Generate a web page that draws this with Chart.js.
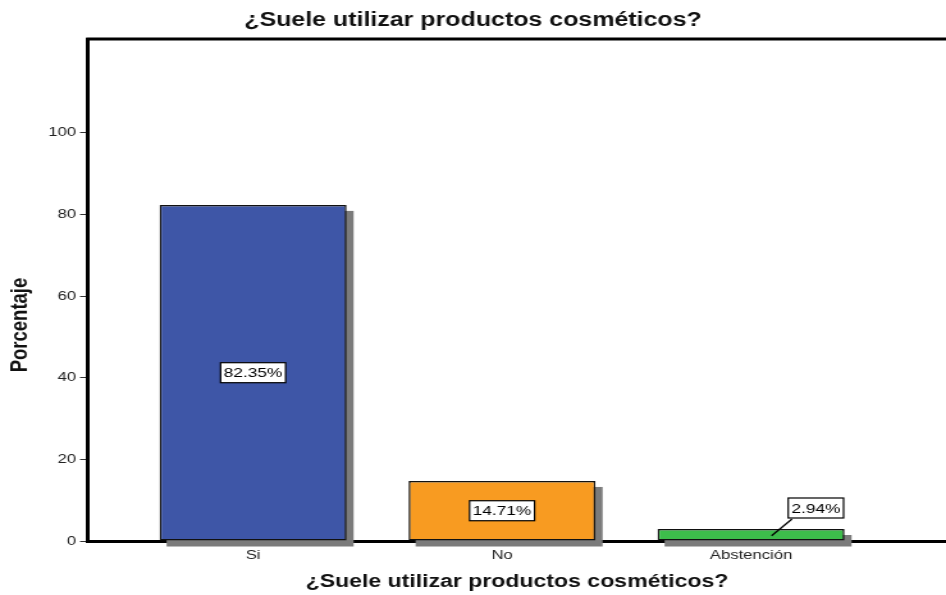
<!DOCTYPE html>
<html>
<head>
<meta charset="utf-8">
<script src="https://cdn.jsdelivr.net/npm/chart.js@4/dist/chart.umd.min.js"></script>
<style>
html,body{margin:0;padding:0;background:#fff;overflow:hidden}
</style>
</head>
<body>
<canvas id="grafico" width="739" height="595" style="width:946px;height:595px;display:block"></canvas>
<script>
const titulo = "¿Suele utilizar productos cosméticos?";
const tituloY = "Porcentaje";
const categorias = ["Si", "No", "Abstención"];
const porcentajes = [82.35, 14.71, 2.94];
const colores = ["#3e56a7", "#f89b21", "#3dbd4b"];
const ticksY = [0, 20, 40, 60, 80, 100];

// the picture is a bit stretched sideways, so the canvas is drawn narrow and widened by css
const SX = 946 / 739;

Chart.defaults.font.family = "'Liberation Sans', Arial, sans-serif";
Chart.defaults.color = "#222";

// grey drop shadow behind every bar
const sombra = {
  id: "sombra",
  beforeDatasetsDraw(chart) {
    const ctx = chart.ctx;
    ctx.save();
    ctx.fillStyle = "#7b7b7b";
    chart.getDatasetMeta(0).data.forEach(bar => {
      ctx.fillRect(bar.x - bar.width / 2 + 5.5, bar.y + 6, bar.width, bar.base - bar.y);
    });
    ctx.restore();
  }
};

// white boxes with the percentages
const etiquetas = {
  id: "etiquetas",
  afterDatasetsDraw(chart) {
    const ctx = chart.ctx;
    ctx.save();
    ctx.font = "13.5px 'Liberation Sans', Arial, sans-serif";
    ctx.textAlign = "center";
    ctx.textBaseline = "middle";
    chart.getDatasetMeta(0).data.forEach((bar, i) => {
      const txt = porcentajes[i].toFixed(2) + "%";
      const w = ctx.measureText(txt).width + 5;
      const h = 20;
      const mid = (bar.y + bar.base) / 2;
      let bx = bar.x - w / 2;
      let by = mid - h / 2;
      if (bar.base - bar.y < h + 8) {
        bx = bar.x + 29;
        by = bar.y - 11 - h;
        ctx.strokeStyle = "#000";
        ctx.lineWidth = 1.3;
        ctx.beginPath();
        ctx.moveTo(bar.x + 16, mid + 1);
        ctx.lineTo(bx + 3, by + h + 1);
        ctx.stroke();
      }
      ctx.fillStyle = "#fff";
      ctx.fillRect(bx, by, w, h);
      ctx.strokeStyle = "#000";
      ctx.lineWidth = 1.2;
      ctx.strokeRect(bx, by, w, h);
      ctx.fillStyle = "#000";
      ctx.fillText(txt, bx + w / 2, by + h / 2 + 1);
    });
    ctx.restore();
  }
};

// top line of the frame and the y title
const marco = {
  id: "marco",
  afterDraw(chart) {
    const ctx = chart.ctx;
    const a = chart.chartArea;
    ctx.save();
    ctx.strokeStyle = "#000";
    ctx.lineWidth = 3;
    ctx.beginPath();
    ctx.moveTo(a.left - 1.5, a.top);
    ctx.lineTo(chart.width, a.top);
    ctx.stroke();

    ctx.translate(16, 325);
    ctx.rotate(-Math.PI / 2);
    ctx.font = "bold 18.5px 'Liberation Sans', Arial, sans-serif";
    ctx.fillStyle = "#111";
    ctx.textAlign = "center";
    ctx.textBaseline = "middle";
    ctx.fillText(tituloY, 0, 0);
    ctx.restore();
  }
};

new Chart(document.getElementById("grafico"), {
  type: "bar",
  data: {
    datasets: [{
      data: categorias.map((c, i) => ({ x: i, y: porcentajes[i] })),
      backgroundColor: colores,
      borderColor: "#111",
      borderWidth: 1.5,
      borderSkipped: false,
      barPercentage: 0.751,
      categoryPercentage: 1
    }]
  },
  options: {
    responsive: false,
    devicePixelRatio: 1,
    animation: false,
    layout: { padding: 0 },
    plugins: {
      legend: { display: false },
      tooltip: { enabled: false },
      title: {
        display: true,
        text: titulo,
        color: "#111",
        font: { size: 19.5, weight: "bold" },
        padding: { top: 9, bottom: 6.6 }
      }
    },
    scales: {
      x: {
        type: "linear",
        offset: false,
        min: -0.663,
        max: 2.783,
        z: 1,
        afterBuildTicks: s => { s.ticks = categorias.map((c, i) => ({ value: i })); },
        afterFit: s => { s.height = 54; },
        ticks: {
          callback: v => categorias[v],
          font: { size: 13 },
          padding: 3,
          autoSkip: false,
          maxRotation: 0
        },
        grid: { offset: false, drawOnChartArea: false, tickLength: 4, color: "#333" },
        border: { color: "#000", width: 3 },
        title: {
          display: true,
          text: titulo,
          color: "#111",
          font: { size: 18, weight: "bold" },
          padding: { top: 0, bottom: 2 }
        }
      },
      y: {
        min: 0,
        max: 123,
        z: 1,
        afterBuildTicks: s => { s.ticks = ticksY.map(v => ({ value: v })); },
        afterFit: s => { s.width = 88 / SX; },
        ticks: { font: { size: 13 }, padding: 3 },
        grid: { drawOnChartArea: false, tickLength: 6.25, color: "#333" },
        border: { color: "#000", width: 3 }
      }
    }
  },
  plugins: [sombra, etiquetas, marco]
});
</script>
</body>
</html>
